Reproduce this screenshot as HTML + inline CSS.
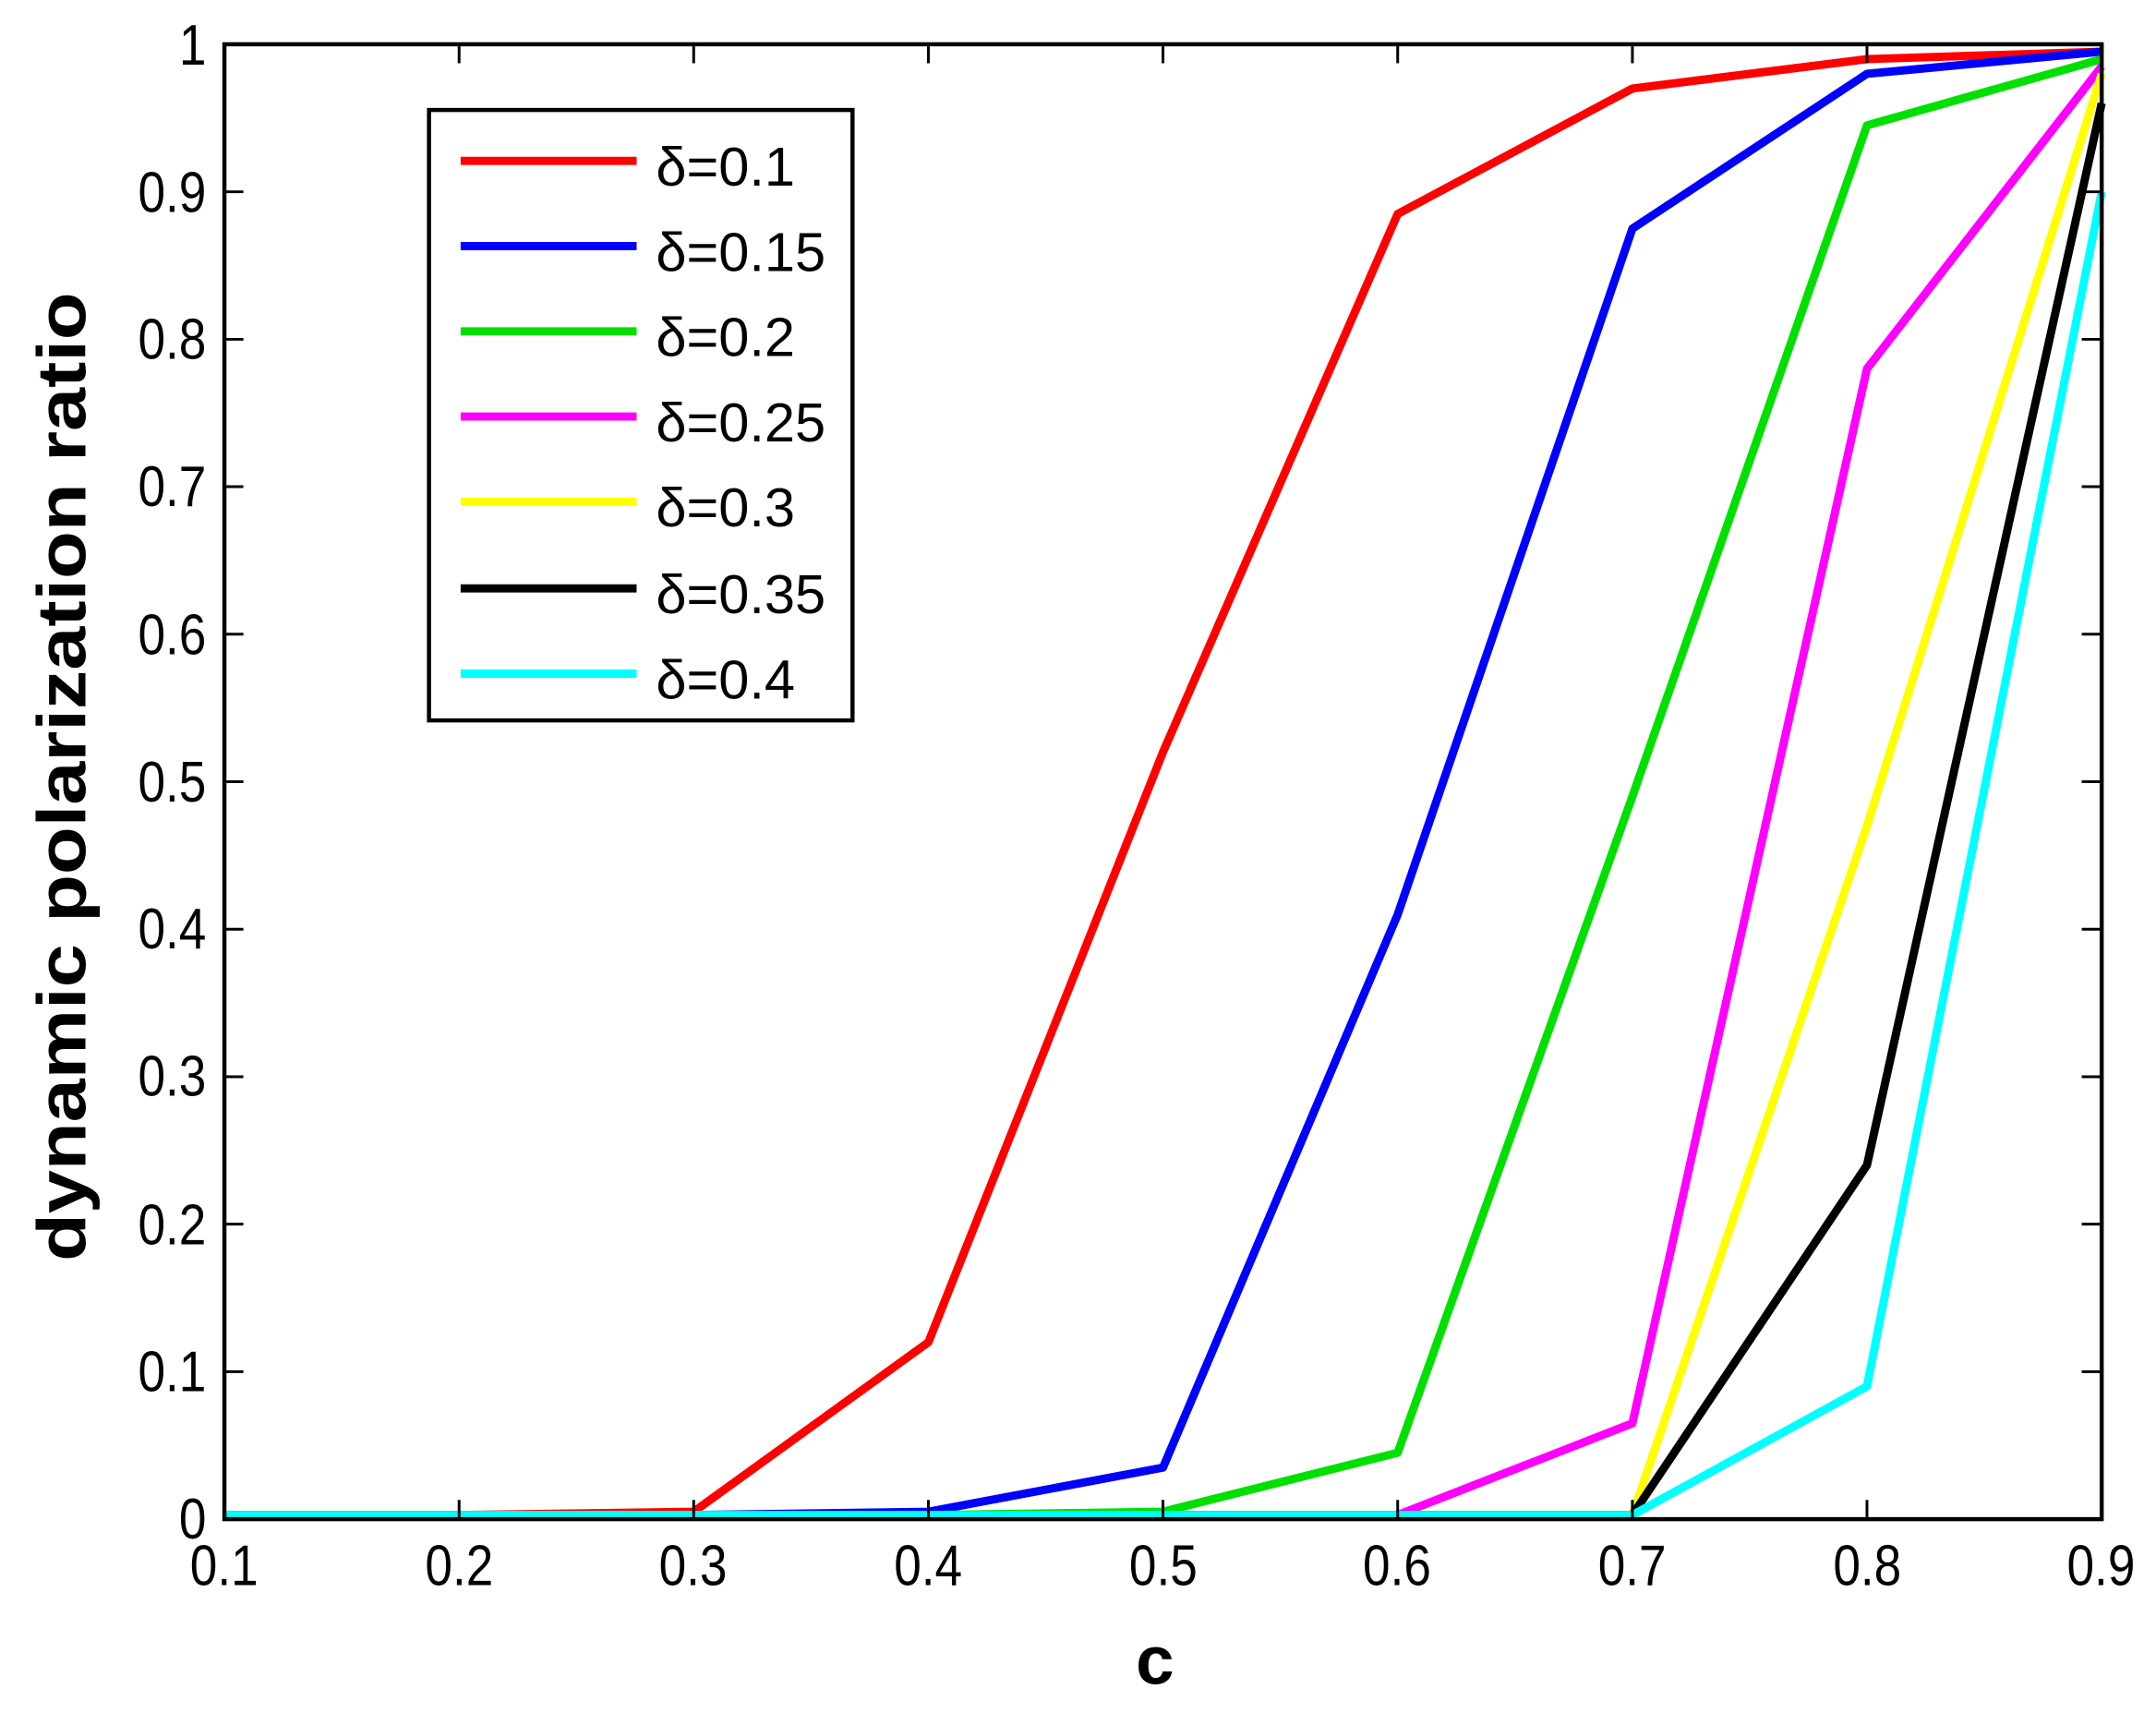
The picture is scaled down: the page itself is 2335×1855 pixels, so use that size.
<!DOCTYPE html>
<html><head><meta charset="utf-8"><style>html,body{margin:0;padding:0;background:#fff}svg{display:block}</style></head>
<body>
<svg width="2335" height="1855" viewBox="0 0 1568 1246" preserveAspectRatio="none" xmlns="http://www.w3.org/2000/svg">
<rect width="1568" height="1246" fill="#fff"/>
<g fill="none" stroke-width="6" stroke-linejoin="round">
<polyline stroke="#ff0000" points="163.2,1102 333.9,1102 504.5,1099.6 675.2,976.3 845.8,547.1 1016.5,155.6 1187.2,64.4 1357.8,43 1528.5,37.6"/>
<polyline stroke="#0000ff" points="163.2,1102 504.5,1102 675.2,1099.6 845.8,1067.5 1016.5,665.2 1187.2,166.3 1357.8,53.7 1528.5,37.6"/>
<polyline stroke="#00e000" points="163.2,1102 675.2,1102 845.8,1099.6 1016.5,1056.7 1187.2,579.3 1357.8,91.2 1528.5,43"/>
<polyline stroke="#ff00ff" points="163.2,1102 1016.5,1102 1187.2,1035.3 1357.8,268.2 1528.5,48.3"/>
<polyline stroke="#ffff00" points="163.2,1102 1187.2,1102 1357.8,600.8 1528.5,53.7"/>
<polyline stroke="#000000" points="163.2,1102 1187.2,1102 1357.8,847.5 1528.5,75.1"/>
<polyline stroke="#00ffff" points="163.2,1102 1187.2,1102 1357.8,1008.4 1528.5,139.5"/>
</g>
<rect x="163.2" y="32.2" width="1365.3" height="1072.8" fill="none" stroke="#000" stroke-width="3"/>
<g stroke="#000" stroke-width="2">
<path d="M333.9,1105v-14M504.5,1105v-14M675.2,1105v-14M845.8,1105v-14M1016.5,1105v-14M1187.2,1105v-14M1357.8,1105v-14
M333.9,32v14M504.5,32v14M675.2,32v14M845.8,32v14M1016.5,32v14M1187.2,32v14M1357.8,32v14
M163,997.7h14M163,890.4h14M163,783.2h14M163,675.9h14M163,568.6h14M163,461.3h14M163,354h14M163,246.8h14M163,139.5h14
M1528,997.7h-14M1528,890.4h-14M1528,783.2h-14M1528,675.9h-14M1528,568.6h-14M1528,461.3h-14M1528,354h-14M1528,246.8h-14M1528,139.5h-14"/>
</g>
<g font-family="Liberation Sans, sans-serif" font-size="42" fill="#000" text-anchor="end" transform="translate(150,0) scale(0.85,1) translate(-150,0)">
<text x="150" y="1119">0</text>
<text x="150" y="1012">0.1</text>
<text x="150" y="905">0.2</text>
<text x="150" y="797">0.3</text>
<text x="150" y="690">0.4</text>
<text x="150" y="583">0.5</text>
<text x="150" y="476">0.6</text>
<text x="150" y="368">0.7</text>
<text x="150" y="261">0.8</text>
<text x="150" y="154">0.9</text>
<text x="150" y="47">1</text>
</g>
<g font-family="Liberation Sans, sans-serif" font-size="42" fill="#000" text-anchor="middle">
<text transform="translate(163,1153) scale(0.85,1)">0.1</text>
<text transform="translate(334,1153) scale(0.85,1)">0.2</text>
<text transform="translate(504,1153) scale(0.85,1)">0.3</text>
<text transform="translate(675,1153) scale(0.85,1)">0.4</text>
<text transform="translate(846,1153) scale(0.85,1)">0.5</text>
<text transform="translate(1016,1153) scale(0.85,1)">0.6</text>
<text transform="translate(1187,1153) scale(0.85,1)">0.7</text>
<text transform="translate(1358,1153) scale(0.85,1)">0.8</text>
<text transform="translate(1528,1153) scale(0.85,1)">0.9</text>
</g>
<text x="840" y="1225" font-family="Liberation Sans, sans-serif" font-size="50" font-weight="bold" text-anchor="middle">c</text>
<text transform="translate(62,565) rotate(-90)" font-family="Liberation Sans, sans-serif" font-size="50" font-weight="bold" text-anchor="middle" textLength="705" lengthAdjust="spacingAndGlyphs">dynamic polarization ratio</text>
<rect x="312" y="80" width="308" height="444" fill="#fff" stroke="#000" stroke-width="3"/>
<g stroke-width="6">
<line x1="335" y1="117" x2="463" y2="117" stroke="#ff0000"/>
<line x1="335" y1="179" x2="463" y2="179" stroke="#0000ff"/>
<line x1="335" y1="241" x2="463" y2="241" stroke="#00e000"/>
<line x1="335" y1="303" x2="463" y2="303" stroke="#ff00ff"/>
<line x1="335" y1="365" x2="463" y2="365" stroke="#ffff00"/>
<line x1="335" y1="428" x2="463" y2="428" stroke="#000000"/>
<line x1="335" y1="490" x2="463" y2="490" stroke="#00ffff"/>
</g>
<g font-family="Liberation Sans, DejaVu Sans, sans-serif" font-size="40" fill="#000">
<text x="477" y="135">δ=0.1</text>
<text x="477" y="197">δ=0.15</text>
<text x="477" y="259">δ=0.2</text>
<text x="477" y="321">δ=0.25</text>
<text x="477" y="383">δ=0.3</text>
<text x="477" y="446">δ=0.35</text>
<text x="477" y="508">δ=0.4</text>
</g>
</svg>
</body></html>
